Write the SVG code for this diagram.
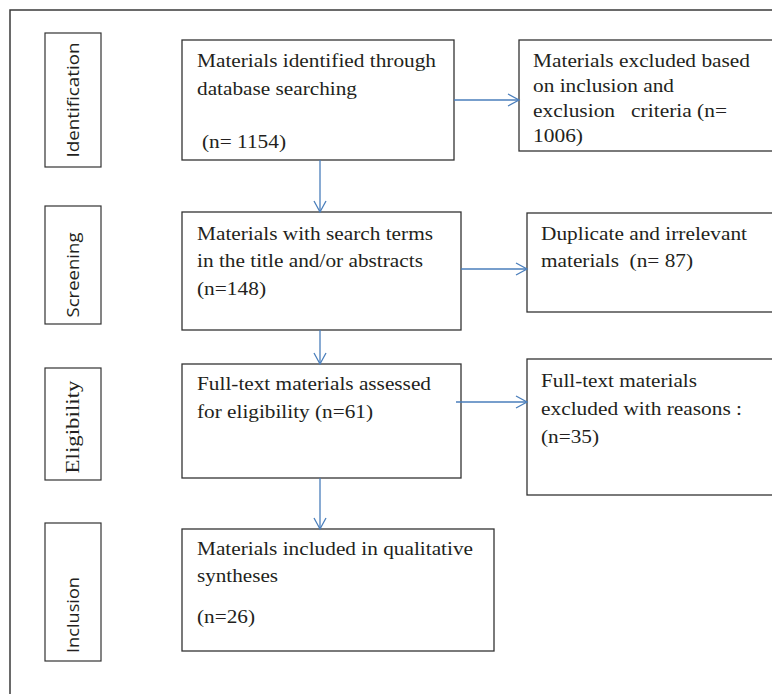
<svg xmlns="http://www.w3.org/2000/svg" width="772" height="694" viewBox="0 0 772 694">
<style>
.frame{fill:none;stroke:#3a3a3a;stroke-width:1.5}
.box{fill:#fff;stroke:#333;stroke-width:1.3}
.side{fill:#fff;stroke:#333;stroke-width:1.2}
.t{font-family:"Liberation Serif","Times New Roman",serif;font-size:19px;fill:#231f20}
.s{font-family:"Open Sans","Liberation Sans",sans-serif;font-size:16px;fill:#231f20}
.e{font-family:"Liberation Serif","Times New Roman",serif;font-size:19px;fill:#231f20}
.c{fill:none;stroke:#4a7ebb;stroke-width:1.3}
</style>
<defs>
<marker id="ah" markerWidth="14" markerHeight="14" refX="12" refY="7" orient="auto" markerUnits="userSpaceOnUse">
<path d="M1,1 L12,7 L1,13" fill="none" stroke="#4a7ebb" stroke-width="1.3"/>
</marker>
</defs>
<rect width="772" height="694" fill="#fff"/>
<path class="frame" d="M10,694 L10,10 L772,10"/>

<g id="side-identification"><rect class="side" x="45" y="33" width="56" height="134"/><text class="s" transform="translate(79,100) rotate(-90)" text-anchor="middle" textLength="115" lengthAdjust="spacingAndGlyphs">Identification</text></g>
<g id="side-screening"><rect class="side" x="45" y="206" width="56" height="118"/><text class="s" transform="translate(79,275) rotate(-90)" text-anchor="middle" textLength="85" lengthAdjust="spacingAndGlyphs">Screening</text></g>
<g id="side-eligibility"><rect class="side" x="45" y="368" width="56" height="112"/><text class="e" transform="translate(79,427) rotate(-90)" text-anchor="middle" textLength="93" lengthAdjust="spacingAndGlyphs">Eligibility</text></g>
<g id="side-inclusion"><rect class="side" x="45" y="523" width="56" height="138"/><text class="s" transform="translate(79,615) rotate(-90)" text-anchor="middle" textLength="76" lengthAdjust="spacingAndGlyphs">Inclusion</text></g>

<g id="identified"><rect class="box" x="182" y="40" width="272" height="120"/>
<text class="t" x="197" y="67" textLength="239" lengthAdjust="spacingAndGlyphs">Materials identified through</text>
<text class="t" x="197" y="95" textLength="160" lengthAdjust="spacingAndGlyphs">database searching</text>
<text class="t" x="202" y="148" textLength="84" lengthAdjust="spacingAndGlyphs">(n= 1154)</text></g>

<g id="excluded1"><rect class="box" x="519" y="40" width="262" height="111"/>
<text class="t" x="533" y="67" textLength="217" lengthAdjust="spacingAndGlyphs">Materials excluded based</text>
<text class="t" x="533" y="92" textLength="141" lengthAdjust="spacingAndGlyphs">on inclusion and</text>
<text class="t" x="533" y="117" textLength="194" lengthAdjust="spacingAndGlyphs" xml:space="preserve">exclusion   criteria (n=</text>
<text class="t" x="533" y="142" textLength="50" lengthAdjust="spacingAndGlyphs">1006)</text></g>

<g id="screened"><rect class="box" x="182" y="212" width="279" height="118"/>
<text class="t" x="197" y="240" textLength="236" lengthAdjust="spacingAndGlyphs">Materials with search terms</text>
<text class="t" x="197" y="267" textLength="226" lengthAdjust="spacingAndGlyphs">in the title and/or abstracts</text>
<text class="t" x="197" y="295" textLength="69" lengthAdjust="spacingAndGlyphs">(n=148)</text></g>

<g id="excluded2"><rect class="box" x="527" y="213" width="254" height="99"/>
<text class="t" x="541" y="240" textLength="206" lengthAdjust="spacingAndGlyphs">Duplicate and irrelevant</text>
<text class="t" x="541" y="267" textLength="152" lengthAdjust="spacingAndGlyphs" xml:space="preserve">materials  (n= 87)</text></g>

<g id="eligible"><rect class="box" x="182" y="364" width="279" height="114"/>
<text class="t" x="197" y="390" textLength="234" lengthAdjust="spacingAndGlyphs">Full-text materials assessed</text>
<text class="t" x="197" y="418" textLength="176" lengthAdjust="spacingAndGlyphs">for eligibility (n=61)</text></g>

<g id="excluded3"><rect class="box" x="527" y="359" width="254" height="136"/>
<text class="t" x="541" y="387" textLength="156" lengthAdjust="spacingAndGlyphs">Full-text materials</text>
<text class="t" x="541" y="415" textLength="201" lengthAdjust="spacingAndGlyphs">excluded with reasons :</text>
<text class="t" x="541" y="443" textLength="58" lengthAdjust="spacingAndGlyphs">(n=35)</text></g>

<g id="included"><rect class="box" x="182" y="529" width="312" height="122"/>
<text class="t" x="197" y="555" textLength="276" lengthAdjust="spacingAndGlyphs">Materials included in qualitative</text>
<text class="t" x="197" y="582" textLength="81" lengthAdjust="spacingAndGlyphs">syntheses</text>
<text class="t" x="197" y="623" textLength="58" lengthAdjust="spacingAndGlyphs">(n=26)</text></g>

<g id="connectors">
<line class="c" x1="454" y1="100" x2="519" y2="100" marker-end="url(#ah)"/>
<line class="c" x1="461" y1="269" x2="527" y2="269" marker-end="url(#ah)"/>
<line class="c" x1="456" y1="402" x2="527" y2="402" marker-end="url(#ah)"/>
<line class="c" x1="320" y1="160" x2="320" y2="212" marker-end="url(#ah)"/>
<line class="c" x1="320" y1="330" x2="320" y2="364" marker-end="url(#ah)"/>
<line class="c" x1="320" y1="478" x2="320" y2="529" marker-end="url(#ah)"/>
</g>
</svg>
